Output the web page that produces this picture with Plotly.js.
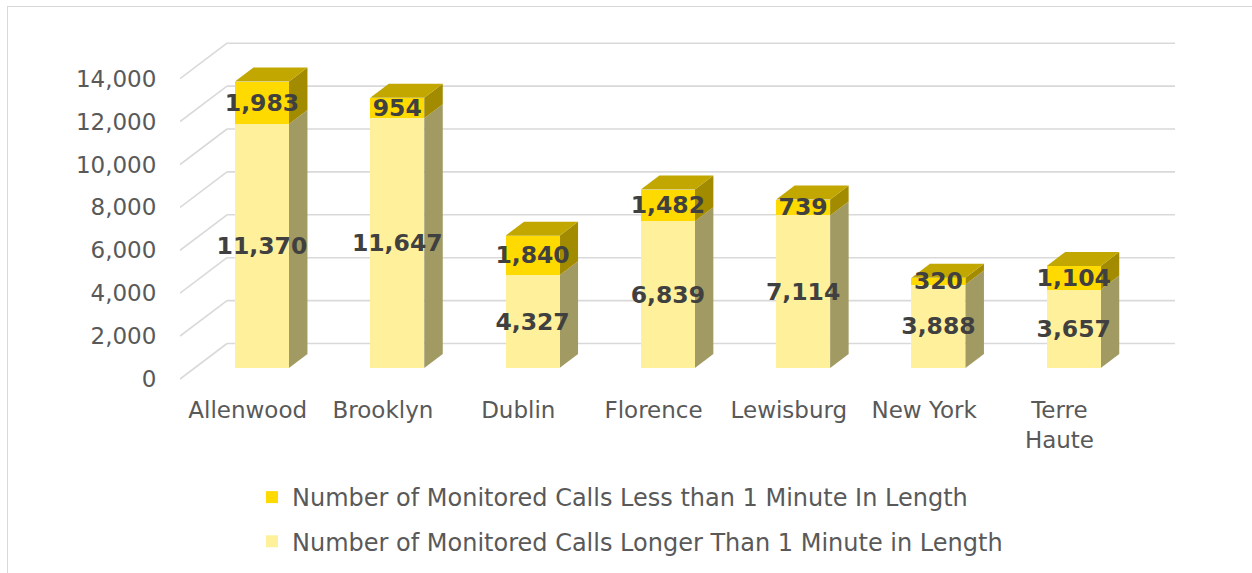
<!DOCTYPE html>
<html><head><meta charset="utf-8">
<script src="https://cdn.plot.ly/plotly-3.0.1.min.js"></script>
<style>
html,body{margin:0;padding:0;background:#fff;overflow:hidden}
#chart{width:1252px;height:573px}
#frame{position:absolute;left:7px;top:6px;width:1400px;height:800px;border:1.5px solid #D9D9D9;box-sizing:border-box;pointer-events:none}
</style>
</head><body><div id="chart"></div><div id="frame"></div>
<script>
// ---- data ----
const categories = ['Allenwood','Brooklyn','Dublin','Florence','Lewisburg','New York','Terre Haute'];
const tickLabels = ['Allenwood','Brooklyn','Dublin','Florence','Lewisburg','New York','Terre<br>Haute'];
const longerCalls = [11370, 11647, 4327, 6839, 7114, 3888, 3657];
const shorterCalls = [1983, 954, 1840, 1482, 739, 320, 1104];
const yTicks = [0, 2000, 4000, 6000, 8000, 10000, 12000, 14000];
const yTickText = yTicks.map(v => v.toLocaleString('en-US'));
const seriesNames = ['Number of Monitored Calls Longer Than 1 Minute in Length',
                     'Number of Monitored Calls Less than 1 Minute In Length'];

// ---- layout geometry (pixels -> axis units) ----
const W = 1252, H = 573;
const L = 180, R = 1175, T = 30, B = 385;
const slot = 135.3;
const xRange = [-0.5, -0.5 + (R - L) / slot];
const upp = 2000 / 42.9;           // axis units per pixel
const barZeroPx = 368;
const yRange = [-(B - barZeroPx) * upp, (barZeroPx - T) * upp];
const frontOff = -(379 - barZeroPx) * upp;
const backOff = (barZeroPx - 343.5) * upp;
const backStartX = -0.5 + 47 / slot;
const barW = 54 / slot;
const barShift = 14.3 / slot;
const barOffset = barShift - barW / 2;
const dX = 18.5 / slot, dY = 14 * upp;

const xIdx = categories.map((c, i) => i);
const grid = '#D9D9D9';
const shapes = [];
yTicks.forEach(t => {
  shapes.push({type:'line', xref:'x', yref:'y', layer:'below', x0:-0.5, y0:t+frontOff, x1:backStartX, y1:t+backOff, line:{color:grid, width:1.6}});
  shapes.push({type:'line', xref:'x', yref:'y', layer:'below', x0:backStartX, y0:t+backOff, x1:xRange[1], y1:t+backOff, line:{color:grid, width:1.6}});
});
const poly = pts => 'M' + pts.map(p => p[0] + ',' + p[1]).join(' L') + ' Z';
xIdx.forEach(i => {
  const left = i + barOffset, right = left + barW;
  const lo = longerCalls[i], tot = longerCalls[i] + shorterCalls[i];
  shapes.push({type:'path', xref:'x', yref:'y', layer:'below', line:{width:0},
    fillcolor:'#A19A63', path: poly([[right,0],[right+dX,dY],[right+dX,lo+dY],[right,lo]])});
  shapes.push({type:'path', xref:'x', yref:'y', layer:'below', line:{width:0},
    fillcolor:'#A38B00', path: poly([[right,lo],[right+dX,lo+dY],[right+dX,tot+dY],[right,tot]])});
  shapes.push({type:'path', xref:'x', yref:'y', layer:'below', line:{width:0},
    fillcolor:'#C2A700', path: poly([[left,tot],[left+dX,tot+dY],[right+dX,tot+dY],[right,tot]])});
});

const labelFont = {family:'DejaVu Sans', size:23.5, color:'#404040', weight:'bold'};
const fmt = v => v.toLocaleString('en-US');
const common = {type:'bar', x:xIdx, width:barW, offset:barOffset, textposition:'inside',
  insidetextanchor:'middle', textangle:0, constraintext:'none', textfont:labelFont,
  hoverinfo:'skip', cliponaxis:false};

const traces = [
  Object.assign({}, common, {name:seriesNames[0], y:longerCalls, text:longerCalls.map(fmt),
    marker:{color:'#FFF09C', line:{width:0}}, legendgroup:'a', legendrank:2}),
  Object.assign({}, common, {name:seriesNames[1], y:shorterCalls, text:shorterCalls.map(fmt),
    marker:{color:'#FFDA00', line:{width:0}}, legendgroup:'b', legendrank:1})
];

const tickFont = {family:'DejaVu Sans', size:23, color:'#595959'};
const layout = {
  width:W, height:H, autosize:false,
  margin:{l:L, r:W-R, t:T, b:H-B, pad:0, autoexpand:false},
  paper_bgcolor:'rgba(0,0,0,0)', plot_bgcolor:'rgba(0,0,0,0)',
  barmode:'stack', showlegend:true,
  xaxis:{type:'linear', range:xRange, tickvals:xIdx, ticktext:tickLabels, showgrid:false,
    zeroline:false, showline:false, ticks:'outside', ticklen:4, tickcolor:'rgba(0,0,0,0)',
    tickfont:tickFont, fixedrange:true, automargin:false},
  yaxis:{range:yRange, tickvals:yTicks.map(t => t + frontOff), ticktext:yTickText, showgrid:false,
    zeroline:false, showline:false, ticks:'outside', ticklen:18, tickcolor:'rgba(0,0,0,0)',
    tickfont:tickFont, fixedrange:true, automargin:false},
  legend:{orientation:'v', x:(252 - L) / (R - L), xanchor:'left', y:-(475 - B) / (B - T), yanchor:'top',
    traceorder:'grouped', tracegroupgap:10, font:{family:'DejaVu Sans', size:24, color:'#595959'},
    bgcolor:'rgba(0,0,0,0)'},
  shapes:shapes
};
Plotly.newPlot('chart', traces, layout, {staticPlot:true, displayModeBar:false});
</script>
</body></html>
